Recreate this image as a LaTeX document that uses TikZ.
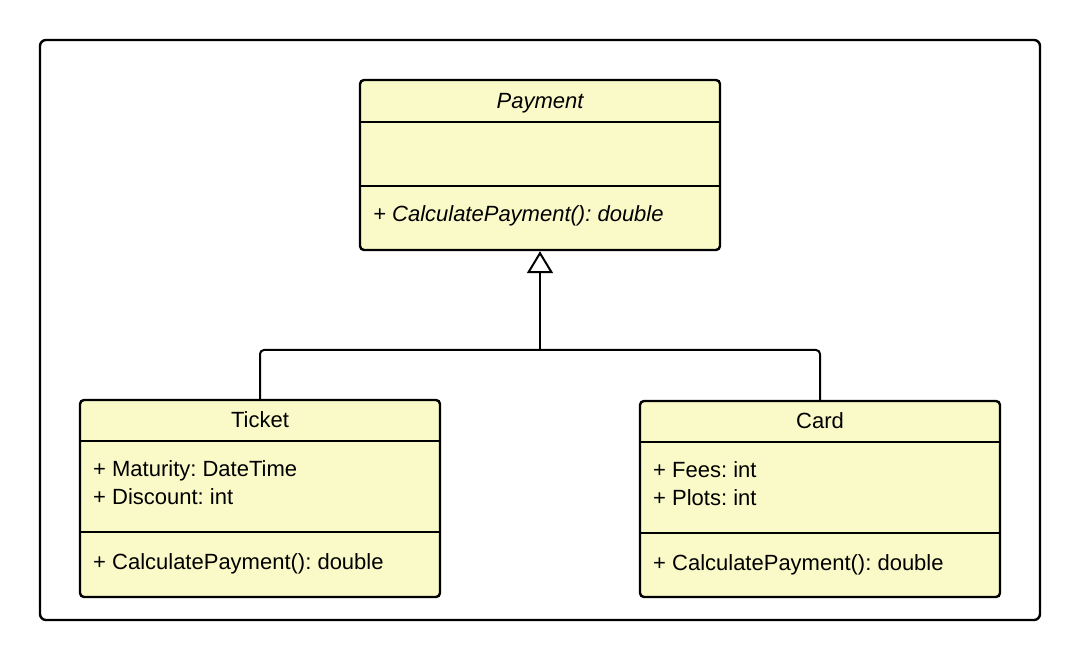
\documentclass[tikz,border=0pt]{standalone}
\usepackage{fontspec}
\setmainfont{Liberation Sans}
\usetikzlibrary{arrows.meta, positioning}
\definecolor{classfill}{RGB}{250,250,200}
\frenchspacing

\begin{document}
\begin{tikzpicture}[x=1pt, y=-1pt,
        classbox/.style={draw, line width=2.4pt, rounded corners=4pt, fill=classfill, minimum width=360pt, inner sep=0pt},
        member/.style={anchor=base west, inner sep=0pt, font=\fontsize{22}{27}\selectfont},
        title/.style={member, anchor=base}]
        \useasboundingbox (0,0) rectangle (1080,660);
        \node[draw, line width=2.4pt, rounded corners=6pt, minimum width=1000pt, minimum height=580pt] (frame) at (540,330) {};

        \node[classbox, minimum height=170pt] (payment) at (540,165) {};
        \node[classbox, minimum height=197pt] (ticket) at (260,498.5) {};
        \node[classbox, minimum height=196pt] (card) at (820,499) {};

        \draw[line width=2.4pt] (360,122) -- (720,122)
            (360,186) -- (720,186)
            (80,441) -- (440,441)
            (80,532) -- (440,532)
            (640,442) -- (1000,442)
            (640,533) -- (1000,533);

        \node[title] (paymentname) at (540,109) {\itshape Payment};
        \node[member] (paymentop) at (373,222) {\itshape + CalculatePayment(): double};

        \node[title] (ticketname) at (260,428) {Ticket};
        \node[member] (maturity) at (93,477) {+ Maturity: DateTime};
        \node[member] (discount) at (93,504) {+ Discount: int};
        \node[member] (ticketop) at (93,569) {+ CalculatePayment(): double};

        \node[title] (cardname) at (820,429) {Card};
        \node[member] (fees) at (653,478) {+ Fees: int};
        \node[member] (plots) at (653,505) {+ Plots: int};
        \node[member] (cardop) at (653,570) {+ CalculatePayment(): double};

        \coordinate (joint) at (540,350);
        \draw[line width=2pt, rounded corners=4pt] (ticket.north) |- (joint) -| (card.north);
        \draw[line width=2pt, -{Triangle[open, length=22pt, width=26pt, fill=white]}] (joint) to (payment.south);
    \end{tikzpicture}
\end{document}
